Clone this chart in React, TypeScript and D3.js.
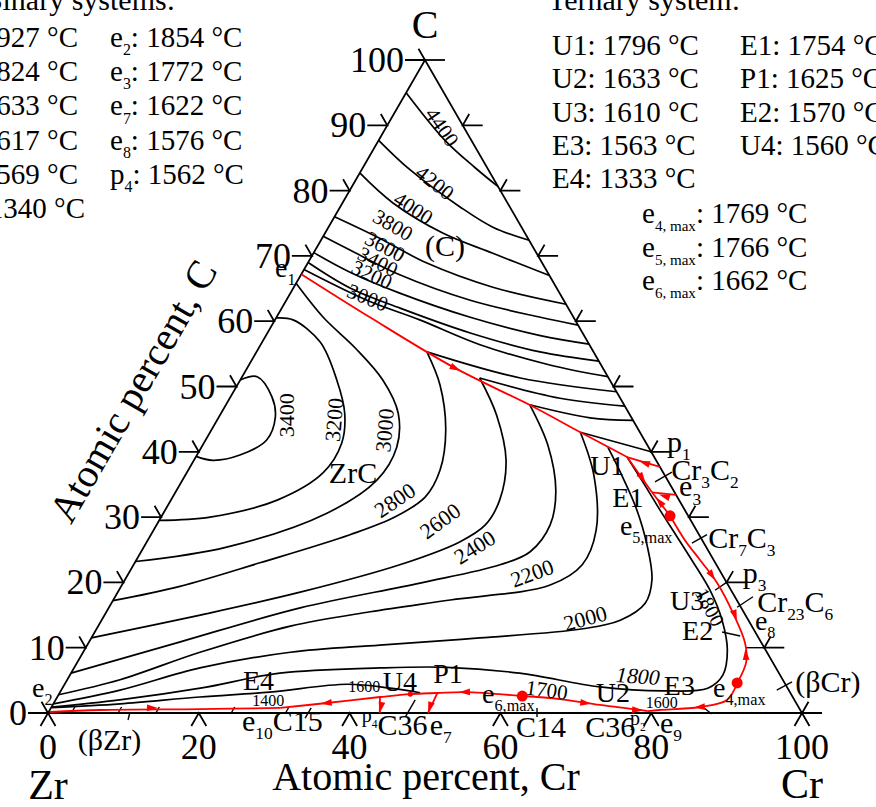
import React from "react";
import * as d3 from "d3";

type Pt = [number, number]; // [Cr at.%, C at.%]

const W = 876;
const H = 807;
const FONT = "'Liberation Serif', 'Times New Roman', serif";
const RED = "#ff0000";

// ---------- composition scales (Gibbs triangle, Zr bottom-left, Cr bottom-right, C apex)
const xS = d3.scaleLinear().domain([0, 100]).range([48, 802]);
const yS = d3.scaleLinear().domain([0, 100]).range([713, 60]);
const proj = (p: Pt): [number, number] => [xS(p[0] + p[1] / 2), yS(p[1])];

const smooth = d3
  .line<Pt>()
  .x((d) => proj(d)[0])
  .y((d) => proj(d)[1])
  .curve(d3.curveCatmullRom.alpha(0.5));

// ---------- axis ticks
const sideTicks = [0, 10, 20, 30, 40, 50, 60, 70, 80, 90, 100];
const rightTicks = [0, 10, 20, 30, 40, 50, 60, 70, 80, 90];
const baseTicks = [0, 20, 40, 60, 80, 100];

// ---------- liquidus isotherms in the graphite primary field
const gr4400: Pt[] = [[0, 95], [8.8, 87.7], [14.9, 83.5], [19.4, 80.6]];
const gr4200: Pt[] = [[0, 87.7], [6.4, 83.2], [15.9, 77.5], [21.8, 74.4], [27.6, 72.4]];
const gr4000: Pt[] = [[0, 82.7], [6.7, 78.1], [15.6, 73.5], [23.8, 70.4], [33, 67]];
const gr3800: Pt[] = [[0, 76], [7.2, 72.9], [15.8, 68.9], [26.4, 65.2], [37.4, 62.6]];
const gr3600: Pt[] = [[0, 73], [4.6, 70.9], [13.1, 67.1], [24.4, 63.2], [35, 60.6], [40.6, 59.4]];
const gr3400: Pt[] = [[0, 70.5], [6.3, 67.5], [14.5, 64.3], [25.7, 60.6], [36.4, 57.8], [43.5, 56.5]];
const gr3200: Pt[] = [[0, 69], [7.5, 65.1], [15.7, 62], [26.9, 58.2], [37.6, 55.3], [46.1, 53.9]];
const gr3000: Pt[] = [[0, 67.9], [10.7, 63.2], [19.2, 60.2], [29.1, 56.4], [39.9, 53.3], [48.5, 51.5]];
const gr2800: Pt[] = [[22.6, 55.3], [37, 51.3], [50.8, 49.2]];
const gr2600: Pt[] = [[31.6, 51.3], [43.8, 48.2], [53, 47]];
const gr2400: Pt[] = [[40.3, 47.2], [49.3, 45.2], [55.2, 44.8]];
const gr2200: Pt[] = [[49.1, 43.0], [60, 40]];

// ---------- liquidus isotherms in the ZrC primary field
const zrc3400: Pt[] = [[0, 51], [2.0, 51.5], [5.5, 48.4], [7.5, 45.3], [8.1, 41.8], [5.7, 39.5], [2.5, 38.7], [0, 39.3]];
const zrc3200: Pt[] = [[0, 60.5], [2.4, 60.2], [7.7, 56.8], [12.8, 51], [16.4, 45.9], [18.3, 41.3], [18.1, 36.8], [14.1, 32.6], [6.5, 30], [0, 29.5]];
const zrc3000: Pt[] = [[0, 65.8], [6.2, 60.6], [12.8, 55.9], [18.9, 51], [23.5, 45.9], [25.9, 40.7], [25.8, 35.7], [21.7, 30.6], [11.0, 25.4], [0, 23.2]];
const zrc2800: Pt[] = [[22.6, 55.3], [26.9, 50.2], [31.1, 43.3], [33.4, 37.2], [33.5, 33.1], [31.0, 30.0], [26.4, 27.3], [16.6, 23.0], [7.8, 19.4], [0, 17.2]];
const zrc2600: Pt[] = [[31.6, 51.3], [36.7, 45.6], [41.4, 38.7], [43.6, 32.6], [43.6, 28.8], [41.5, 26.2], [35.3, 22.7], [24.2, 18.5], [12.7, 15.0], [0, 11.5]];
const zrc2400: Pt[] = [[40.3, 47.2], [45.8, 41.0], [50.3, 34.1], [52.2, 28.8], [51.6, 24.7], [48.6, 22.7], [39.4, 19.9], [25.4, 16.1], [12.1, 10.9], [0, 6.1]];
const zrc2200: Pt[] = [[49.1, 43.0], [54.2, 36.4], [58.7, 28.0], [59.5, 22.7], [56.8, 19.6], [44.7, 17.3], [35.0, 15.5], [25.5, 13.3], [15.5, 9.3], [7.0, 5.1], [0, 2.8]];
const zrc2000: Pt[] = [[53.9, 40.7], [57.9, 36.4], [62.3, 31.4], [66.6, 25.7], [69.9, 20.4], [70.8, 16.8], [68.8, 14.2], [64.5, 12.9], [51.5, 11.5], [38.8, 10.4], [27.5, 9.3], [16.7, 6.9], [7.8, 3.5], [0, 1.4]];
const iso1800: Pt[] = [[57.2, 39.2], [61.7, 34.9], [65.6, 31.1], [69.6, 27.3], [73.7, 23.4], [78.4, 18.8], [82.3, 14.2], [85.3, 9.6], [86.6, 5.8], [85.6, 3.8], [79.9, 3.4], [71.2, 4.0], [59.5, 6.1], [49.4, 7.0], [40.6, 6.9], [27.7, 6.1], [18.3, 3.8], [8.5, 2.0], [0, 0.9]];
const iso1600: Pt[] = [[0.1, 0.8], [8.85, 1.4], [18.9, 2.45], [27.8, 3.2], [37.5, 4.4], [43.5, 3.8], [47.8, 3.1]];

const isotherms: Pt[][] = [
  gr4400, gr4200, gr4000, gr3800, gr3600, gr3400, gr3200, gr3000, gr2800, gr2600, gr2400, gr2200,
  zrc3400, zrc3200, zrc3000, zrc2800, zrc2600, zrc2400, zrc2200, zrc2000, iso1800, iso1600,
];

// ---------- univariant valleys
const e1U1: Pt[] = [[0, 67.2], [12.4, 60.6], [27.2, 53], [40.9, 46.9], [49.1, 43.0], [57.2, 39.2]];
const sideU1: Pt[] = [[62.3, 37.7], [57.2, 39.2]];
const u1E1: Pt[] = [[57.2, 39.2], [63.2, 33.8]];
const e3E1: Pt[] = [[66.6, 33.4], [63.2, 33.8]];
const e5E1: Pt[] = [[67.4, 30.2], [63.2, 33.8]];
const e5e4: Pt[] = [[67.4, 30.2], [71.2, 26.5], [74.8, 23.4], [78.8, 19.9], [83.2, 15.3], [87.1, 10.7], [88.7, 7.8], [89.1, 4.6]];
const e4E3: Pt[] = [[89.1, 4.6], [89.05, 2.0], [86.0, 0.92], [80.9, 0.46], [79.4, 0.3]];
const e6E3: Pt[] = [[61.6, 2.6], [66.8, 2.14], [72.6, 1.23], [79.4, 0.3]];
const e6E4: Pt[] = [[61.6, 2.6], [53.7, 3.2], [50.1, 3.06], [46.6, 2.9], [42.8, 2.45], [36.2, 1.53], [30.4, 0.77]];
const e2E4: Pt[] = [[0.2, 0.15], [6.7, 0.46], [19.9, 0.6], [30.4, 0.77]];
const p4drop: Pt[] = [[42.8, 2.45], [44.0, 0]];
const e7drop: Pt[] = [[50.1, 3.06], [50.4, 0]];
const valleys: Pt[][] = [e1U1, sideU1, u1E1, e3E1, e5E1, e5e4, e4E3, e6E3, e6E4, e2E4, p4drop, e7drop];

const flowArrows: { at: Pt; to: Pt }[] = [
  { at: [27.6, 52.8], to: [40.9, 46.9] },
  { at: [60.0, 38.3], to: [57.2, 39.2] },
  { at: [60.8, 36.0], to: [63.2, 33.8] },
  { at: [65.2, 33.2], to: [63.2, 33.8] },
  { at: [65.0, 32.3], to: [63.2, 33.8] },
  { at: [77.5, 21.1], to: [78.8, 19.9] },
  { at: [83.6, 15.0], to: [87.1, 10.7] },
  { at: [88.1, 8.9], to: [87.1, 10.7] },
  { at: [86.0, 0.92], to: [80.9, 0.46] },
  { at: [70.5, 1.53], to: [72.6, 1.23] },
  { at: [77.9, 0.46], to: [79.4, 0.3] },
  { at: [53.7, 3.2], to: [50.1, 3.06] },
  { at: [36.2, 1.53], to: [30.4, 0.77] },
  { at: [13.4, 0.77], to: [19.9, 0.6] },
  { at: [43.7, 0.92], to: [44.0, 0] },
  { at: [50.2, 0.92], to: [50.4, 0] },
];

// maxima on the valleys (e5,max  e4,max  e6,max) and U4
const maxPoints: Pt[] = [[67.4, 30.2], [89.1, 4.6], [61.6, 2.6]];
const u4Point: Pt = [46.6, 2.9];

// short phase boundaries, tie-line stubs and label leaders
const blackBits: Pt[][] = [
  [[80, 20], [79.06, 18.8]],
  [[83.2, 12.4], [85.9, 11.8]],
  [[87.6, 10], [90, 10]],
  [[62.8, 35.4], [64.3, 36.9]],
  [[72.4, 26.0], [73.75, 27.3]],
  [[83.3, 16.2], [84.6, 17.8]],
  [[94.9, 3.5], [96.3, 4.75]],
  [[10.8, 0.15], [11.15, -1.07]],
  [[3.1, -0.15], [3.1, 0.92]],
  [[9.3, -0.15], [9.3, 0.92]],
  [[14.3, -0.15], [14.3, 0.92]],
  [[24.3, -0.15], [24.3, 0.92]],
  [[31.5, -0.15], [31.5, 0.92]],
  [[34.5, -0.8], [34.5, 0.8]],
  [[47.7, -0.6], [47.7, 2.0]],
  [[65.16, -0.61], [64.47, 0.77]],
  [[86.4, 0.92], [88.1, -0.15]],
];

// ---------- isotherm labels (centred on the given composition)
const isoLabels: { text: string; at: Pt; rot: number; size?: number; italic?: boolean }[] = [
  { text: "4400", at: [7.4, 89.7], rot: 55 },
  { text: "4200", at: [10.7, 81.2], rot: 38 },
  { text: "4000", at: [9.8, 77.3], rot: 33 },
  { text: "3800", at: [8.4, 74.7], rot: 30 },
  { text: "3600", at: [9.0, 71.4], rot: 28 },
  { text: "3400", at: [9.2, 69.1], rot: 27 },
  { text: "3200", at: [9.4, 67.1], rot: 25 },
  { text: "3000", at: [10.6, 63.6], rot: 22 },
  { text: "3400", at: [8.8, 45.6], rot: -90, size: 22 },
  { text: "3200", at: [15.5, 44.9], rot: -85, size: 22 },
  { text: "3000", at: [23.0, 43.3], rot: -85, size: 22 },
  { text: "2800", at: [29.7, 32.6], rot: -34, size: 22 },
  { text: "2600", at: [37.3, 29.4], rot: -36, size: 22 },
  { text: "2400", at: [43.9, 25.4], rot: -32, size: 22 },
  { text: "2200", at: [53.5, 21.4], rot: -20, size: 22 },
  { text: "2000", at: [64.0, 14.5], rot: -15, size: 22 },
  { text: "1800", at: [79.7, 16.2], rot: 62, size: 20 },
  { text: "1700", at: [64.4, 3.5], rot: 8, size: 21 },
  { text: "1800", at: [75.4, 5.67], rot: 4, size: 22, italic: true },
  { text: "1600", at: [39.9, 4.1], rot: 0, size: 16 },
  { text: "1600", at: [80.6, 1.6], rot: 0, size: 16 },
  { text: "1400", at: [28.3, 1.85], rot: 0, size: 16 },
];

// ---------- invariant points and phase fields (text start, baseline)
const pointLabels: { text: string; at: Pt; size: number; mid?: boolean }[] = [
  { text: "e_{1}", at: [-3.3, 66.8], size: 28 },
  { text: "e_{2}", at: [-3.35, 2.45], size: 28 },
  { text: "U1", at: [53.7, 36.4], size: 28 },
  { text: "E1", at: [59.1, 31.5], size: 28 },
  { text: "e_{5,max}", at: [62.2, 27.3], size: 28 },
  { text: "p_{1}", at: [62.1, 40.0], size: 30 },
  { text: "Cr_{3}C_{2}", at: [64.8, 35.7], size: 30 },
  { text: "e_{3}", at: [67.1, 33.2], size: 30 },
  { text: "Cr_{7}C_{3}", at: [74.9, 25.3], size: 30 },
  { text: "p_{3}", at: [82.2, 19.9], size: 30 },
  { text: "Cr_{23}C_{6}", at: [86.3, 15.5], size: 30 },
  { text: "e_{8}", at: [87.4, 12.7], size: 28 },
  { text: "U3", at: [74.6, 15.8], size: 28 },
  { text: "E2", at: [78.5, 11.2], size: 28 },
  { text: "(βCr)", at: [97.5, 3.2], size: 30 },
  { text: "E3", at: [80.3, 2.76], size: 28 },
  { text: "e_{4,max}", at: [86.97, 2.45], size: 28 },
  { text: "U2", at: [71.8, 1.68], size: 28 },
  { text: "e_{6,max}", at: [56.8, 1.53], size: 28 },
  { text: "P1", at: [48.8, 4.6], size: 28 },
  { text: "U4", at: [42.7, 3.37], size: 28 },
  { text: "E4", at: [24.1, 3.5], size: 28 },
  { text: "e_{10}C15", at: [27.1, -2.76], size: 30 },
  { text: "(βZr)", at: [6.8, -5.7], size: 30 },
  { text: "p_{4}", at: [42.3, -1.38], size: 20 },
  { text: "C36", at: [45.4, -3.37], size: 30 },
  { text: "e_{7}", at: [52.3, -3.37], size: 30 },
  { text: "C14", at: [63.9, -3.68], size: 30 },
  { text: "C36", at: [73.1, -3.68], size: 30 },
  { text: "p_{2}", at: [78.1, -1.84], size: 20 },
  { text: "e_{9}", at: [82.7, -3.06], size: 30 },
  { text: "(C)", at: [16.8, 71.7], size: 30, mid: true },
  { text: "ZrC", at: [22.0, 36.9], size: 30, mid: true },
];

// ---------- invariant temperatures
const binaryTitle = "Binary systems:";
const binaryColA = ["e_{1}: 2927 °C", "p_{1}: 1824 °C", "p_{2}: 1633 °C", "p_{3}: 1617 °C", "e_{9}: 1569 °C", "e_{10}: 1340 °C"];
const binaryColB = ["e_{2}: 1854 °C", "e_{3}: 1772 °C", "e_{7}: 1622 °C", "e_{8}: 1576 °C", "p_{4}: 1562 °C"];
const ternaryTitle = "Ternary system:";
const ternaryColA = ["U1: 1796 °C", "U2: 1633 °C", "U3: 1610 °C", "E3: 1563 °C", "E4: 1333 °C"];
const ternaryColB = ["E1: 1754 °C", "P1: 1625 °C", "E2: 1570 °C", "U4: 1560 °C"];
const ternaryMax = ["e_{4, max}: 1769 °C", "e_{5, max}: 1766 °C", "e_{6, max}: 1662 °C"];

// split "a_{b}c" into normal / subscript runs
function parseRuns(s: string): { t: string; sub: boolean }[] {
  const out: { t: string; sub: boolean }[] = [];
  const re = /_\{([^}]*)\}/g;
  let last = 0;
  let m: RegExpExecArray | null;
  while ((m = re.exec(s))) {
    if (m.index > last) out.push({ t: s.slice(last, m.index), sub: false });
    out.push({ t: m[1], sub: true });
    last = m.index + m[0].length;
  }
  if (last < s.length) out.push({ t: s.slice(last), sub: false });
  return out;
}

function Rich(props: {
  x: number;
  y: number;
  size: number;
  text: string;
  anchor?: "start" | "middle" | "end";
  subScale?: number;
  central?: boolean;
}) {
  const { x, y, size, text, anchor = "start", subScale = 0.6, central } = props;
  const shift = size * 0.28;
  let cur = 0;
  const runs = parseRuns(text);
  return (
    <text x={x} y={y} fontSize={size} textAnchor={anchor} dominantBaseline={central ? "central" : undefined}>
      {runs.map((r, i) => {
        const target = r.sub ? shift : 0;
        const dy = target - cur;
        cur = target;
        return (
          <tspan key={i} dy={dy !== 0 ? dy : undefined} fontSize={r.sub ? size * subScale : undefined}>
            {r.t}
          </tspan>
        );
      })}
    </text>
  );
}

function Arrow({ at, to }: { at: Pt; to: Pt }) {
  const [x, y] = proj(at);
  const [x2, y2] = proj(to);
  const a = Math.atan2(y2 - y, x2 - x);
  const c = Math.cos(a);
  const s = Math.sin(a);
  const pts = [
    [x + c * 6, y + s * 6],
    [x - c * 5 - s * 3.4, y - s * 5 + c * 3.4],
    [x - c * 5 + s * 3.4, y - s * 5 - c * 3.4],
  ]
    .map((p) => p.join(","))
    .join(" ");
  return <polygon points={pts} fill={RED} />;
}

export default function App() {
  const zr = proj([0, 0]);
  const cr = proj([100, 0]);
  const cc = proj([0, 100]);
  const tri = `M${zr[0]},${zr[1]}L${cr[0]},${cr[1]}L${cc[0]},${cc[1]}Z`;

  return (
    <svg
      width={W}
      height={H}
      viewBox={`0 0 ${W} ${H}`}
      style={{ position: "absolute", left: 0, top: 0, background: "#fff" }}
      fontFamily={FONT}
    >
      <rect x={0} y={0} width={W} height={H} fill="#fff" />

      {/* isotherms */}
      <g fill="none" stroke="#000" strokeWidth={1.7}>
        {isotherms.map((d, i) => (
          <path key={i} d={smooth(d) || ""} />
        ))}
        {blackBits.map((d, i) => (
          <path key={"b" + i} d={smooth(d) || ""} strokeWidth={1.4} />
        ))}
      </g>

      {/* triangle frame and ticks */}
      <g fill="none" stroke="#000" strokeWidth={1.8}>
        <path d={tri} />
        {sideTicks.map((c) => {
          const [x, y] = proj([0, c]);
          return <path key={"l" + c} d={`M${x - 20},${y}H${x}L${x - 6.5},${y - 11.3}`} />;
        })}
        {rightTicks.map((c) => {
          const [x, y] = proj([100 - c, c]);
          return <path key={"r" + c} d={`M${x + 20},${y}H${x}L${x + 6.5},${y - 11.3}`} />;
        })}
        {baseTicks.map((v) => {
          const [x, y] = proj([v, 0]);
          return <path key={"b" + v} d={`M${x - 7.5},${y + 13}L${x},${y}L${x + 7.5},${y + 13}`} />;
        })}
        <path d={`M${cc[0]},${cc[1]}H${cc[0] + 20}`} />
      </g>

      {/* valleys */}
      <g fill="none" stroke={RED} strokeWidth={1.8}>
        {valleys.map((d, i) => (
          <path key={i} d={smooth(d) || ""} />
        ))}
      </g>
      {flowArrows.map((a, i) => (
        <Arrow key={i} at={a.at} to={a.to} />
      ))}
      {maxPoints.map((p, i) => {
        const [x, y] = proj(p);
        return <circle key={i} cx={x} cy={y} r={5.5} fill={RED} />;
      })}
      <circle cx={proj(u4Point)[0]} cy={proj(u4Point)[1]} r={2.6} fill={RED} />

      {/* isotherm labels */}
      {isoLabels.map((l, i) => {
        const [x, y] = proj(l.at);
        const size = l.size || 21;
        return (
          <text
            key={i}
            x={x}
            y={y}
            fontSize={size}
            textAnchor="middle"
            dominantBaseline="central"
            fontStyle={l.italic ? "italic" : undefined}
            transform={l.rot ? `rotate(${l.rot},${x},${y})` : undefined}
          >
            {l.text}
          </text>
        );
      })}

      {/* point and phase labels */}
      {pointLabels.map((l, i) => {
        const [x, y] = proj(l.at);
        return (
          <Rich
            key={i}
            x={x}
            y={y}
            size={l.size}
            text={l.text}
            anchor={l.mid ? "middle" : "start"}
            central={l.mid}
            subScale={0.58}
          />
        );
      })}

      {/* tick labels */}
      {sideTicks.map((c) => {
        const [x, y] = proj([0, c]);
        return (
          <text key={"tl" + c} x={x - 21} y={y + 12} fontSize={36} textAnchor="end">
            {c}
          </text>
        );
      })}
      {baseTicks.map((v) => {
        const [x] = proj([v, 0]);
        return (
          <text key={"tb" + v} x={x} y={759} fontSize={36} textAnchor="middle">
            {v}
          </text>
        );
      })}

      {/* component and axis titles */}
      <text x={cc[0]} y={38} fontSize={40} textAnchor="middle">C</text>
      <text x={zr[0]} y={799} fontSize={42} textAnchor="middle">Zr</text>
      <text x={cr[0]} y={798} fontSize={42} textAnchor="middle">Cr</text>
      <text x={426} y={790} fontSize={40} textAnchor="middle">Atomic percent, Cr</text>
      <text
        x={133}
        y={391}
        fontSize={40}
        textAnchor="middle"
        dominantBaseline="central"
        transform="rotate(-60,133,391)"
      >
        Atomic percent, C
      </text>

      {/* invariant temperature lists */}
      <g>
        <text x={175} y={10} fontSize={30} textAnchor="end">{binaryTitle}</text>
        {binaryColA.map((s, i) => (
          <Rich key={"ba" + i} x={i === 5 ? 85 : 78} y={47 + i * 34.2} size={29} text={s} anchor="end" subScale={0.55} />
        ))}
        {binaryColB.map((s, i) => (
          <Rich key={"bb" + i} x={110} y={47 + i * 34.2} size={29} text={s} subScale={0.55} />
        ))}
        <text x={548} y={10} fontSize={30}>{ternaryTitle}</text>
        {ternaryColA.map((s, i) => (
          <Rich key={"ta" + i} x={552} y={55 + i * 33.3} size={29} text={s} />
        ))}
        {ternaryColB.map((s, i) => (
          <Rich key={"tb" + i} x={740} y={55 + i * 33.3} size={29} text={s} />
        ))}
        {ternaryMax.map((s, i) => (
          <Rich key={"tm" + i} x={642} y={223 + i * 33.5} size={29} text={s} subScale={0.52} />
        ))}
      </g>
    </svg>
  );
}
